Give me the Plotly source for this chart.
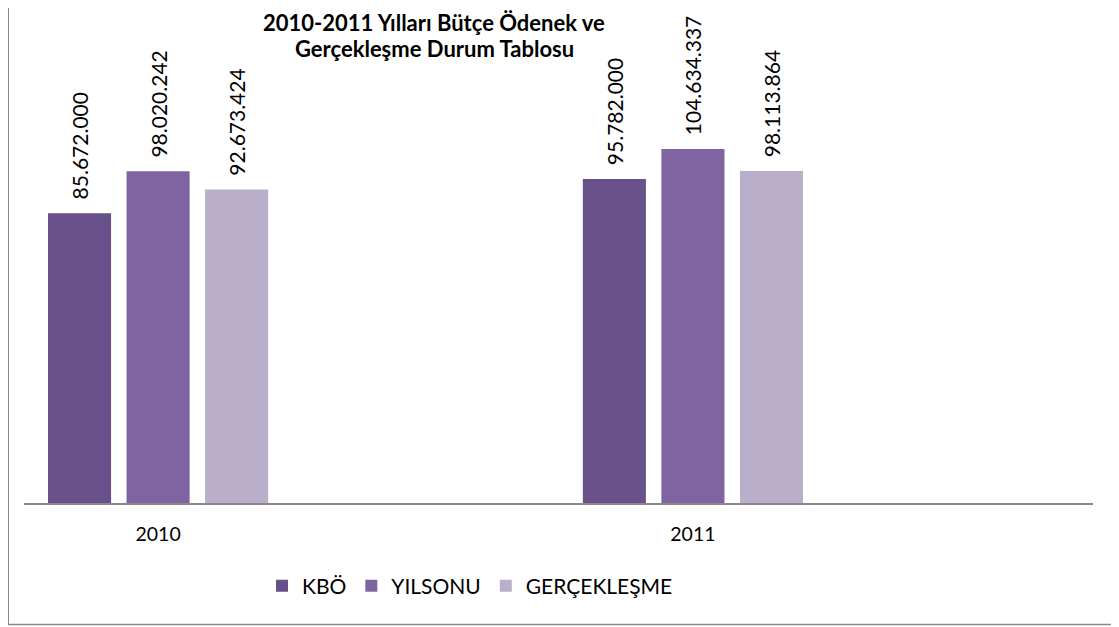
import plotly.graph_objects as go

# ---- data ----
years = ["2010", "2011"]
series_names = ["KBÖ", "YILSONU", "GERÇEKLEŞME"]
kbo = [85672000, 95782000]
yilsonu = [98020242, 104634337]
gerceklesme = [92673424, 98113864]
colors = ["#68508A", "#8064A2", "#B9AFCB"]

title_lines = ["2010-2011 Yılları Bütçe Ödenek ve", "Gerçekleşme Durum Tablosu"]


def fmt(v):
    return "\u00a0\u00a0" + f"{v:,}".replace(",", ".")


FONT = "Lato, Carlito, Calibri, 'Open Sans', sans-serif"

fig = go.Figure()
for name, vals, col in zip(series_names, [kbo, yilsonu, gerceklesme], colors):
    fig.add_trace(go.Bar(
        name=name, x=years, y=vals, marker_color=col, marker_line_width=0,
        text=[fmt(v) for v in vals], textposition="outside", textangle=-90,
        textfont=dict(family=FONT, size=21, color="#000000"),
        constraintext="none", cliponaxis=False,
    ))

# page has an 8px body margin, so the figure is 8px smaller and offset
OFF = 8
W, H = 1119 - OFF, 627 - OFF
ml, mr, mt, mb = 24 - OFF, 26, 97 - OFF, 124
pw, ph = W - ml - mr, H - mt - mb


def px_x(x):  # page pixel -> paper x
    return (x - OFF - ml) / pw


def px_y(y):  # page pixel -> paper y
    return (mt + ph - (y - OFF)) / ph


fig.update_layout(
    width=W, height=H,
    margin=dict(l=ml, r=mr, t=mt, b=mb, pad=0),
    paper_bgcolor="white", plot_bgcolor="white",
    barmode="group", bargap=0.5594, bargroupgap=0.197,
    font=dict(family=FONT, color="#000000"),
    xaxis=dict(type="category", range=[-0.2507, 1.748], showline=True,
               linecolor="#898989", linewidth=1.5, showgrid=False, zeroline=False,
               ticks="", ticklabelstandoff=13,
               tickfont=dict(family=FONT, size=19.5, color="#000000")),
    yaxis=dict(range=[0, 120e6], visible=False, showgrid=False, zeroline=False),
    legend=dict(orientation="h", x=px_x(470), xanchor="center",
                y=px_y(586), yanchor="middle",
                font=dict(family=FONT, size=21, color="#000000"),
                itemwidth=30, traceorder="normal", bgcolor="rgba(0,0,0,0)"),
    showlegend=True,
)

for line, yc in zip(title_lines, [23, 49]):
    fig.add_annotation(text=line, xref="paper", yref="paper", x=px_x(434), y=px_y(yc),
                       xanchor="center", yanchor="middle", showarrow=False,
                       font=dict(family=FONT, size=22, color="#000000", weight="bold"))

# outer chart border
fig.add_shape(type="line", xref="paper", yref="paper", x0=px_x(8), x1=px_x(8),
              y0=px_y(8), y1=px_y(624.5), line=dict(color="#8a8a8a", width=2))
fig.add_shape(type="line", xref="paper", yref="paper", x0=px_x(8), x1=px_x(1125),
              y0=px_y(624.5), y1=px_y(624.5), line=dict(color="#8a8a8a", width=1.5))

fig.write_html("out.html")
